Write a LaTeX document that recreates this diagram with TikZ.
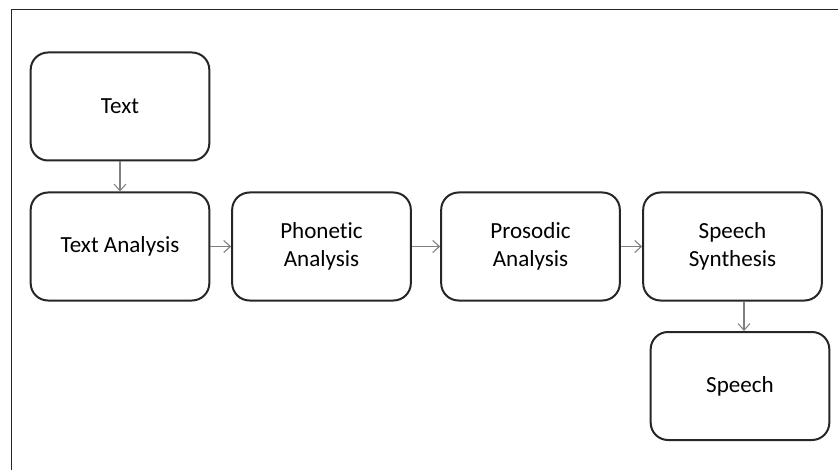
\documentclass[tikz,border=0pt]{standalone}
\usepackage{fontspec}
\setmainfont{Carlito}[Ligatures={NoCommon}]
\usetikzlibrary{arrows.meta}

\begin{document}
\begin{tikzpicture}[x=0.75pt, y=-0.75pt, every node/.style={font=\fontsize{17.3}{20.5}\selectfont},
  box/.style={draw=black!85, line width=1.5pt, rounded corners=13pt, minimum width=134pt, minimum height=81pt, inner sep=0pt, align=center},
  flow/.style={draw=black!50, line width=0.8pt, -{Straight Barb[length=5pt, width=9pt]}}]
  \useasboundingbox (0,0) rectangle (838,470);
  % frame
  \draw[line width=1.2pt, black!85] (838,9.5) -- (11.5,9.5) -- (11.5,470);
  \node[box] (text) at (120,106.5) {Text};
  \foreach \x/\name/\lbl in {120/ana/Text Analysis, 321.5/pho/Phonetic\\Analysis, 530.5/pro/Prosodic\\Analysis, 732.5/syn/Speech\\Synthesis} {
    \node[box] (\name) at (\x,246.5) {\lbl};
  }
  \node[box] (speech) at (740,386) {Speech};
  \draw[flow] (text) -- (ana);
  \draw[flow] (ana) -- (pho);
  \draw[flow] (pho) -- (pro);
  \draw[flow] (pro) -- (syn);
  \draw[flow] ([xshift=3pt]syn.south -| speech.north) -- ([xshift=3pt]speech.north);
\end{tikzpicture}
\end{document}
